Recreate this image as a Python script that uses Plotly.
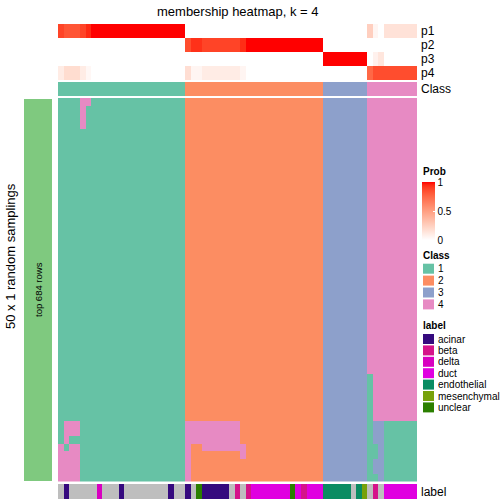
import numpy as np
import plotly.graph_objects as go

# ---------------- data ----------------
n_cols = 65
n_rows = 50
col_class = [1] * 23 + [2] * 25 + [3] * 8 + [4] * 9

p1 = [0.88, 0.82, 0.82, 0.82, 0.88, 0.95] + [1.0] * 17 + [0.0] * 33 + [0.25, 0.05, 0.0] + [0.15] * 6
p2 = [0.0] * 23 + [0.85, 0.93, 0.93] + [0.88] * 7 + [0.94] + [1.0] * 14 + [0.0] * 17
p3 = [0.0] * 48 + [1.0] * 8 + [0.0, 0.07, 0.13] + [0.0] * 6
p4 = ([0.1, 0.18, 0.18, 0.18, 0.1, 0.04] + [0.0] * 17 + [0.17, 0.05, 0.05] + [0.1] * 7 + [0.05]
      + [0.0] * 14 + [0.0] * 8 + [0.75, 0.85, 0.85] + [0.85] * 6)
prob_names = ["p1", "p2", "p3", "p4"]

# membership overrides: (row_start, row_end, col_start, col_end, class)
overrides = [
    (0, 0, 4, 5, 4), (1, 3, 4, 4, 4),
    (42, 43, 1, 3, 4), (44, 44, 1, 1, 4), (45, 45, 0, 0, 4), (45, 45, 2, 3, 4), (46, 49, 0, 3, 4),
    (42, 44, 23, 32, 4), (45, 45, 23, 23, 4), (45, 45, 26, 33, 4),
    (46, 46, 23, 23, 4), (46, 46, 33, 33, 4), (47, 49, 23, 23, 4),
    (36, 49, 56, 56, 1),
    (42, 44, 57, 57, 3), (45, 46, 57, 57, 1), (47, 48, 57, 57, 3), (49, 49, 57, 57, 1),
    (42, 49, 58, 58, 3), (42, 49, 59, 64, 1),
]

sample_label = ([None, "acinar", None, None, None, None, None, "delta", None, None, None, "acinar"]
                + [None] * 8 + ["acinar", None, None, "acinar", None, "unclear"] + ["acinar"] * 5
                + [None, "beta", None, "beta"] + ["duct"] * 7 + ["unclear", "duct", "beta"] + ["duct"] * 3
                + ["endothelial"] * 5 + [None, "endothelial", "mesenchymal", None, "beta", None] + ["duct"] * 6)

class_names = ["1", "2", "3", "4"]
class_colors = ["#66C2A5", "#FC8D62", "#8DA0CB", "#E78AC3"]
label_names = ["acinar", "beta", "delta", "duct", "endothelial", "mesenchymal", "unclear"]
label_colors = ["#350A7E", "#D5138A", "#D800C0", "#E000E0", "#0A8C62", "#77A10B", "#2B7F00"]
na_color = "#BEBEBE"

# ---------------- helpers ----------------
W = H = 504
def X(px): return px / W
def Y(py): return 1 - py / H

def _lin(c):
    c = c / 255.0
    return np.where(c <= 0.04045, c / 12.92, ((c + 0.055) / 1.055) ** 2.4)
def _gam(c):
    c = np.where(c <= 0.0031308, 12.92 * c, 1.055 * np.clip(c, 0, None) ** (1 / 2.4) - 0.055)
    return np.clip(c * 255, 0, 255)
M = np.array([[0.4124564, 0.3575761, 0.1804375], [0.2126729, 0.7151522, 0.0721750], [0.0193339, 0.1191920, 0.9503041]])
WP = np.array([0.95047, 1.0, 1.08883])
def rgb2lab(rgb):
    xyz = M @ _lin(np.array(rgb, float)) / WP
    f = np.where(xyz > 216 / 24389, np.cbrt(xyz), (24389 / 27 * xyz + 16) / 116)
    return np.array([116 * f[1] - 16, 500 * (f[0] - f[1]), 200 * (f[1] - f[2])])
def lab2rgb(lab):
    fy = (lab[0] + 16) / 116; fx = fy + lab[1] / 500; fz = fy - lab[2] / 200
    f = np.array([fx, fy, fz])
    xyz = np.where(f ** 3 > 216 / 24389, f ** 3, (116 * f - 16) / (24389 / 27)) * WP
    return _gam(np.linalg.solve(M, xyz))
lw, lr = rgb2lab([255, 255, 255]), rgb2lab([255, 0, 0])
prob_scale = []
for t in np.linspace(0, 1, 21):
    r, g, b = lab2rgb(lw + (lr - lw) * t)
    prob_scale.append([float(t), f"rgb({int(round(r))},{int(round(g))},{int(round(b))})"])

def step_scale(colors):
    n = len(colors); s = []
    for i, c in enumerate(colors):
        s += [[i / n, c], [(i + 1) / n, c]]
    return s

# ---------------- matrices ----------------
memb = np.tile(np.array(col_class), (n_rows, 1))
for r0, r1, c0, c1, v in overrides:
    memb[r0:r1 + 1, c0:c1 + 1] = v
lab_code = [0 if l is None else label_names.index(l) + 1 for l in sample_label]
cols = list(range(n_cols))

FONT = "Liberation Sans, Arial, Helvetica, sans-serif"
fig = go.Figure()
fig.add_trace(go.Heatmap(z=[p1, p2, p3, p4], x=cols, y=[0, 1, 2, 3], xaxis="x", yaxis="y2",
                         zmin=0, zmax=1, colorscale=prob_scale, showscale=True, hoverinfo="z",
                         colorbar=dict(x=X(422), xanchor="left", y=Y(211), yanchor="middle",
                                       len=58, lenmode="pixels", thickness=13, thicknessmode="pixels",
                                       xpad=0, ypad=0, outlinewidth=0, tickvals=[0, 0.5, 1],
                                       ticktext=["0", "0.5", "1"], ticks="inside", ticklen=2,
                                       tickcolor="white", tickfont=dict(size=10, family=FONT, color="black"))))
fig.add_trace(go.Heatmap(z=[col_class], x=cols, y=[0], xaxis="x", yaxis="y3", zmin=0.5, zmax=4.5,
                         colorscale=step_scale(class_colors), showscale=False))
fig.add_trace(go.Heatmap(z=memb.tolist(), x=cols, y=list(range(n_rows)), xaxis="x", yaxis="y",
                         zmin=0.5, zmax=4.5, colorscale=step_scale(class_colors), showscale=False))
fig.add_trace(go.Heatmap(z=[lab_code], x=cols, y=[0], xaxis="x", yaxis="y4", zmin=-0.5, zmax=7.5,
                         colorscale=step_scale([na_color] + label_colors), showscale=False))

ax = dict(visible=False, showgrid=False, zeroline=False, fixedrange=True)
fig.update_layout(
    width=W, height=H, margin=dict(l=0, r=0, t=0, b=0), paper_bgcolor="white", plot_bgcolor="white",
    showlegend=False, font=dict(family=FONT, color="black"),
    xaxis=dict(domain=[X(58), X(417)], range=[-0.5, n_cols - 0.5], anchor="y", **ax),
    yaxis=dict(domain=[Y(481.6), Y(98)], range=[n_rows - 0.5, -0.5], anchor="x", **ax),
    yaxis2=dict(domain=[Y(80), Y(24)], range=[3.5, -0.5], anchor="x", **ax),
    yaxis3=dict(domain=[Y(96), Y(82)], range=[0.5, -0.5], anchor="x", **ax),
    yaxis4=dict(domain=[Y(499), Y(484)], range=[0.5, -0.5], anchor="x", **ax),
)

shapes = [dict(type="rect", xref="paper", yref="paper", x0=X(24), x1=X(52), y0=Y(481), y1=Y(99),
               fillcolor="#7FC97F", line=dict(width=0), layer="below")]
ann = []
def txt(x, y, s, size=12, anchor="left", angle=0, bold=False):
    ann.append(dict(x=X(x), y=Y(y), xref="paper", yref="paper", text=f"<b>{s}</b>" if bold else s,
                    showarrow=False, xanchor=anchor, yanchor="middle", textangle=angle,
                    font=dict(size=size, family=FONT, color="black")))

txt(237.5, 11, "membership heatmap, k = 4", 13, "center")
for i, nm in enumerate(prob_names):
    txt(419, 31 + 14 * i, nm, 12)
txt(419, 89, "Class", 12)
txt(419, 491.5, "label", 12)
txt(10, 256, "50 x 1 random samplings", 13, "center", -90)
txt(38, 290, "top 684 rows", 9.5, "center", -90)

txt(421, 171.5, "Prob", 10, bold=True)
txt(421, 255.5, "Class", 10, bold=True)
for i, (nm, c) in enumerate(zip(class_names, class_colors)):
    yc = 268.7 + 11.9 * i
    shapes.append(dict(type="rect", xref="paper", yref="paper", x0=X(423), x1=X(434), y0=Y(yc + 5), y1=Y(yc - 5),
                       fillcolor=c, line=dict(width=0)))
    txt(436, yc, nm, 10)
txt(421, 325, "label", 10, bold=True)
for i, (nm, c) in enumerate(zip(label_names, label_colors)):
    yc = 339 + 11.4 * i
    shapes.append(dict(type="rect", xref="paper", yref="paper", x0=X(423), x1=X(434), y0=Y(yc + 5), y1=Y(yc - 5),
                       fillcolor=c, line=dict(width=0)))
    txt(436, yc, nm, 10)

fig.update_layout(shapes=shapes, annotations=ann)
fig.write_html("out.html", config={"displayModeBar": False},
               post_script="document.body.style.margin='0';document.body.style.overflow='hidden';")
